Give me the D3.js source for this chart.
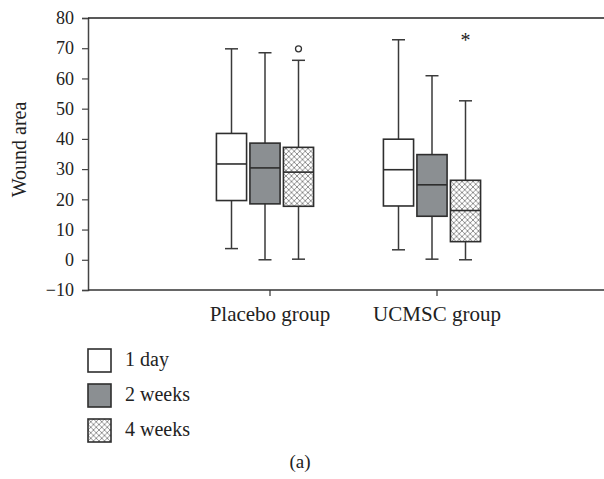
<!DOCTYPE html>
<html>
<head>
<meta charset="utf-8">
<script src="https://cdn.jsdelivr.net/npm/d3@7"></script>
<style>
  body { margin: 0; background: #fff; }
  svg { display: block; }
  text { font-family: "Liberation Serif", "DejaVu Serif", serif; fill: #222; }
</style>
</head>
<body>
<div class="boxChart"></div>
<script>
let w = 604;
let h = 479;

// data
const groups = ["Placebo group", "UCMSC group"];
const series = ["1 day", "2 weeks", "4 weeks"];
const yTicks = [-10, 0, 10, 20, 30, 40, 50, 60, 70, 80];

// [min, q1, median, q3, max] per series, one list per group
const placeboStats = [
	[3.7, 19.6, 31.7, 41.8, 69.8],
	[0.0, 18.5, 30.4, 38.6, 68.5],
	[0.2, 17.7, 29.0, 37.2, 66.0]
];
const ucmscStats = [
	[3.3, 17.8, 29.8, 39.9, 72.8],
	[0.2, 14.4, 24.8, 34.8, 60.9],
	[0.0, 6.0, 16.3, 26.3, 52.6]
];
const outliers = [{group: "Placebo group", s: "4 weeks", v: 69.8}];
const extremes = [{group: "UCMSC group", s: "4 weeks", v: 74.5}];

const padL = 88, padR = 604, padT = 18, padB = 290;

let svg = d3.select('.boxChart')
	.append('svg')
	.attr('width', w)
	.attr('height', h);

// crosshatch for 4 weeks
let defs = svg.append('defs');
let pat = defs.append('pattern')
	.attr('id', 'hatch')
	.attr('patternUnits', 'userSpaceOnUse')
	.attr('width', 5.5)
	.attr('height', 5.5);
pat.append('rect').attr('width', 5.5).attr('height', 5.5).attr('fill', '#fff');
pat.append('path')
	.attr('d', 'M0,0L5.5,5.5M5.5,0L0,5.5')
	.attr('stroke', '#777')
	.attr('stroke-width', 0.8);

const fills = {"1 day": "#fff", "2 weeks": "#8b8f92", "4 weeks": "url(#hatch)"};

const y = d3.scaleLinear().domain([-10, 80]).range([padB, padT]);
const x0 = d3.scaleBand().domain(groups).range([186.5, 520.5]);
const x1 = d3.scaleBand().domain(series)
	.range([-55.25, 45.25]) //shifted a bit left of the group tick, as in the picture
	.paddingInner(0.1)
	.paddingOuter(0.05);

// axes
let yAxis = svg.append('g')
	.attr('transform', 'translate(' + padL + ',0)')
	.call(d3.axisLeft(y).tickValues(yTicks).tickSize(6).tickPadding(8).tickFormat(d => d < 0 ? '\u2212' + (-d) : d));
yAxis.attr('font-family', null);
yAxis.select('.domain').attr('stroke', '#444').attr('stroke-width', 1.5);
yAxis.selectAll('.tick line').attr('stroke', '#444').attr('stroke-width', 1.2);
yAxis.selectAll('.tick text')
	.style('font-family', '"Liberation Serif", serif')
	.attr('font-size', '18px').attr('fill', '#222');

let xAxis = svg.append('g')
	.attr('transform', 'translate(0,' + padB + ')')
	.call(d3.axisBottom(x0).tickSize(6).tickPadding(10).tickSizeOuter(0));
xAxis.attr('font-family', null);
xAxis.select('.domain').attr('d', 'M' + padL + ',0H' + padR).attr('stroke', '#333').attr('stroke-width', 1.5);
xAxis.selectAll('.tick line').attr('stroke', '#333').attr('stroke-width', 1.2);
xAxis.selectAll('.tick text')
	.style('font-family', '"Liberation Serif", serif')
	.attr('font-size', '21px').attr('fill', '#222');

// top frame line
svg.append('line')
	.attr('x1', padL).attr('x2', padR)
	.attr('y1', y(80)).attr('y2', y(80))
	.attr('stroke', '#222').attr('stroke-width', 1.5);

svg.append('text')
	.text('Wound area')
	.attr('transform', 'translate(26,' + (y(36.5)) + ') rotate(-90)')
	.attr('text-anchor', 'middle')
	.attr('font-size', '20px');

// boxes
let boxData = [];
groups.forEach(function(g, gi){
	let stats = gi === 0 ? placeboStats : ucmscStats;
	series.forEach(function(s, si){
		let st = stats[si];
		boxData.push({group: g, s: s, min: st[0], q1: st[1], med: st[2], q3: st[3], max: st[4]});
	});
});

const cx = d => x0(d.group) + x0.bandwidth() / 2 + x1(d.s) + x1.bandwidth() / 2;
const bw = x1.bandwidth();
const capW = 13;

let box = svg.selectAll('.box')
	.data(boxData)
	.enter()
	.append('g')
	.attr('class', 'box');

box.append('line') //whisker
	.attr('x1', cx).attr('x2', cx)
	.attr('y1', d => y(d.min)).attr('y2', d => y(d.max))
	.attr('stroke', '#3a3a3a').attr('stroke-width', 1.5);
box.append('line').attr('class', 'cap')
	.attr('x1', d => cx(d) - capW / 2).attr('x2', d => cx(d) + capW / 2)
	.attr('y1', d => y(d.max)).attr('y2', d => y(d.max))
	.attr('stroke', '#3a3a3a').attr('stroke-width', 1.5);
box.append('line').attr('class', 'cap')
	.attr('x1', d => cx(d) - capW / 2).attr('x2', d => cx(d) + capW / 2)
	.attr('y1', d => y(d.min)).attr('y2', d => y(d.min))
	.attr('stroke', '#3a3a3a').attr('stroke-width', 1.5);
box.append('rect')
	.attr('x', d => cx(d) - bw / 2)
	.attr('y', d => y(d.q3))
	.attr('width', bw)
	.attr('height', d => y(d.q1) - y(d.q3))
	.attr('fill', d => fills[d.s])
	.attr('stroke', '#2e2e2e').attr('stroke-width', 1.6);
box.append('line') //median
	.attr('x1', d => cx(d) - bw / 2).attr('x2', d => cx(d) + bw / 2)
	.attr('y1', d => y(d.med)).attr('y2', d => y(d.med))
	.attr('stroke', '#2e2e2e').attr('stroke-width', 1.6);

// outliers and extremes
svg.selectAll('.outlier')
	.data(outliers)
	.enter()
	.append('circle')
	.attr('cx', cx).attr('cy', d => y(d.v))
	.attr('r', 3)
	.attr('fill', '#fff').attr('stroke', '#333').attr('stroke-width', 1.3);
svg.selectAll('.extreme')
	.data(extremes)
	.enter()
	.append('text')
	.text('*')
	.attr('x', cx).attr('y', d => y(d.v))
	.attr('dy', '0.62em')
	.attr('text-anchor', 'middle')
	.attr('font-size', '20px')
	.attr('fill', '#555');

// legend
let legend = svg.selectAll('.legend')
	.data(series)
	.enter()
	.append('g')
	.attr('class', 'legend')
	.attr('transform', (d, i) => 'translate(88,' + (349 + i * 35) + ')');
legend.append('rect')
	.attr('width', 23).attr('height', 23)
	.attr('fill', d => fills[d])
	.attr('stroke', '#2e2e2e').attr('stroke-width', 1.6);
legend.append('text')
	.text(d => d)
	.attr('x', 37).attr('y', 17)
	.attr('font-size', '20px');

svg.append('text')
	.text('(a)')
	.attr('x', 300).attr('y', 468)
	.attr('text-anchor', 'middle')
	.attr('font-size', '19px');
</script>
</body>
</html>
